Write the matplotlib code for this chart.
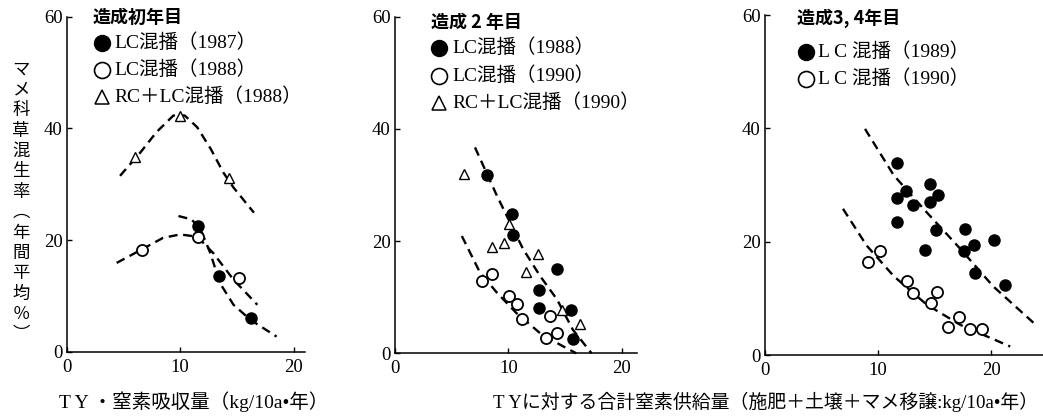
import matplotlib
matplotlib.use("Agg")
import matplotlib.pyplot as plt
from matplotlib.lines import Line2D

# ---- data -------------------------------------------------------------
# Panel 1: 造成初年目 (x = TY nitrogen uptake)
p1_lc87_x = [11.6, 13.4, 16.2]
p1_lc87_y = [22.5, 13.5, 6.0]
p1_lc88_x = [6.6, 11.6, 15.2]
p1_lc88_y = [18.3, 20.6, 13.2]
p1_rc88_x = [6.0, 10.0, 14.3]
p1_rc88_y = [34.8, 42.2, 31.2]
p1_curve_rc_x = [4.7, 6.5, 7.9, 9.4, 10.4, 11.5, 12.7, 13.8, 14.7, 16.5]
p1_curve_rc_y = [31.5, 35.7, 39.3, 42.3, 42.3, 40.2, 36.3, 32.1, 29.4, 24.9]
p1_curve_87_x = [9.85, 11.0, 11.8, 12.65, 13.5, 14.7, 16.2, 18.5]
p1_curve_87_y = [24.3, 23.7, 21.9, 17.7, 12.3, 8.4, 5.7, 2.7]
p1_curve_88_x = [4.4, 6.6, 8.5, 10.0, 11.5, 12.9, 14.7, 16.8]
p1_curve_88_y = [15.9, 18.3, 20.4, 21.0, 20.6, 17.7, 12.9, 8.4]

# Panel 2: 造成2年目 (x = total N supply)
p2_lc88_x = [8.1, 10.3, 10.4, 14.3, 12.7, 12.7, 15.5, 15.7]
p2_lc88_y = [31.7, 24.8, 21.0, 15.1, 11.2, 8.1, 7.7, 2.6]
p2_lc90_x = [7.7, 8.6, 10.1, 10.8, 11.2, 13.7, 13.3, 14.3]
p2_lc90_y = [12.9, 14.2, 10.3, 8.7, 6.2, 6.7, 2.8, 3.6]
p2_rc90_x = [6.1, 10.1, 8.6, 9.6, 12.6, 11.6, 14.7, 16.3]
p2_rc90_y = [32.0, 23.0, 18.9, 19.6, 17.7, 14.5, 7.7, 5.3]
p2_curve_hi_x = [7.06, 8.97, 11.3, 12.8, 14.3, 15.7, 17.35]
p2_curve_hi_y = [36.7, 28.2, 18.6, 13.8, 9.6, 4.2, 0.0]
p2_curve_lo_x = [5.9, 7.5, 9.0, 10.7, 12.8, 14.6, 16.0]
p2_curve_lo_y = [20.9, 14.4, 10.8, 7.2, 3.6, 1.5, 0.0]

# Panel 3: 造成3,4年目
p3_lc89_x = [11.65, 11.7, 12.5, 13.1, 14.6, 14.6, 15.3, 11.7, 15.1, 14.2,
             17.7, 17.6, 18.5, 18.6, 20.3, 21.2]
p3_lc89_y = [33.9, 27.7, 28.9, 26.5, 30.2, 27.0, 28.3, 23.5, 22.1, 18.5,
             22.2, 18.4, 19.4, 14.4, 20.3, 12.3]
p3_lc90_x = [9.1, 10.2, 12.6, 13.1, 15.2, 14.7, 16.2, 17.2, 18.1, 19.2]
p3_lc90_y = [16.4, 18.4, 13.0, 11.0, 11.1, 9.2, 5.0, 6.7, 4.6, 4.6]
p3_curve_hi_x = [8.85, 11.4, 14.3, 17.3, 20.2, 23.75]
p3_curve_hi_y = [39.9, 31.7, 25.2, 18.7, 12.1, 5.7]
p3_curve_lo_x = [6.9, 9.0, 11.4, 14.3, 17.3, 21.7]
p3_curve_lo_y = [25.8, 19.3, 13.9, 8.9, 5.3, 1.5]

# Text
panel_titles = ["造成初年目", "造成 2 年目", "造成3, 4年目"]
p1_labels = ["LC混播（1987）", "LC混播（1988）", "RC＋LC混播（1988）"]
p2_labels = ["LC混播（1988）", "LC混播（1990）", "RC＋LC混播（1990）"]
p3_labels = ["L C 混播（1989）", "L C 混播（1990）"]
y_label = "マメ科草混生率︵年間平均％︶"
x_label_1 = "T Y ・窒素吸収量（kg/10a•年）"
x_label_2 = "T Yに対する合計窒素供給量（施肥＋土壌＋マメ移譲:kg/10a•年）"
x_ticks = [0, 10, 20]
y_ticks = [0, 20, 40, 60]

# ---- figure -----------------------------------------------------------
W, H = 1043, 418
fig = plt.figure(figsize=(W / 100, H / 100), dpi=100)
MIXED = ["Liberation Serif", "Noto Sans CJK JP"]
CJK = ["Noto Sans CJK JP"]


def px_axes(left, bottom, right, top):
    return fig.add_axes([left / W, 1 - bottom / H, (right - left) / W,
                         (bottom - top) / H])


def ftext(x, y, s, **kw):
    return fig.text(x / W, 1 - y / H, s, **kw)


filled = dict(marker="o", ms=8.0, mfc="black", mec="black", ls="none",
              clip_on=False, zorder=3)
hollow = dict(marker="o", ms=8.0, mfc="white", mec="black", mew=1.3,
              ls="none", clip_on=False, zorder=3)
tri = dict(marker="^", ms=7.0, mfc="white", mec="black", mew=1.0,
           ls="none", clip_on=False, zorder=3)
dash = dict(color="black", lw=1.7, ls=(0, (3.8, 2.4)), clip_on=False,
            zorder=2)

axes_px = [(66.7, 351.7, 305, 16.7, 21.0),
           (395, 353.3, 637, 16.7, 21.36),
           (765, 355, 1043, 15, 24.6)]
axes = []
for (l, b, r, t, xmax) in axes_px:
    ax = px_axes(l, b, r, t)
    ax.set_xlim(0, xmax)
    ax.set_ylim(0, 60)
    for s in ("top", "right"):
        ax.spines[s].set_visible(False)
    for s in ("left", "bottom"):
        ax.spines[s].set_linewidth(1.1)
    ax.set_xticks(x_ticks)
    ax.set_yticks(y_ticks)
    ax.tick_params(direction="in", length=3.5, width=1.0, labelsize=13.5)
    ax.tick_params(axis="x", pad=5)
    ax.tick_params(axis="y", pad=3)
    for lab in ax.get_xticklabels() + ax.get_yticklabels():
        lab.set_family("Liberation Serif")
    ax.patch.set_alpha(0)
    axes.append(ax)

ax1, ax2, ax3 = axes

ax1.plot(p1_curve_rc_x, p1_curve_rc_y, **dash)
ax1.plot(p1_curve_87_x, p1_curve_87_y, **dash)
ax1.plot(p1_curve_88_x, p1_curve_88_y, **dash)
ax1.plot(p1_rc88_x, p1_rc88_y, **tri)
ax1.plot(p1_lc88_x, p1_lc88_y, **hollow)
ax1.plot(p1_lc87_x, p1_lc87_y, **filled)

ax2.plot(p2_curve_hi_x, p2_curve_hi_y, **dash)
ax2.plot(p2_curve_lo_x, p2_curve_lo_y, **dash)
ax2.plot(p2_rc90_x, p2_rc90_y, **tri)
ax2.plot(p2_lc90_x, p2_lc90_y, **hollow)
ax2.plot(p2_lc88_x, p2_lc88_y, **filled)

ax3.plot(p3_curve_hi_x, p3_curve_hi_y, **dash)
ax3.plot(p3_curve_lo_x, p3_curve_lo_y, **dash)
ax3.plot(p3_lc90_x, p3_lc90_y, **hollow)
ax3.plot(p3_lc89_x, p3_lc89_y, **filled)

# ---- in-panel keys ----------------------------------------------------
key_styles = {
    "filled": dict(marker="o", ms=11.5, mfc="black", mec="black"),
    "hollow": dict(marker="o", ms=11.5, mfc="white", mec="black", mew=1.2),
    "tri": dict(marker="^", ms=10.5, mfc="white", mec="black", mew=1.1),
}
keys = [
    (93, 17, 102, 114, [43, 70, 97], p1_labels, ["filled", "hollow", "tri"]),
    (431, 22, 439, 452, [48, 76, 103], p2_labels, ["filled", "hollow", "tri"]),
    (797, 18, 806, 818, [52, 79], p3_labels, ["filled", "hollow"]),
]
for i, (tx, ty, sx, lx, rows, labels, kinds) in enumerate(keys):
    ftext(tx, ty, panel_titles[i], family=CJK, fontweight="bold",
          fontsize=13, ha="left", va="center")
    for yy, lab, kind in zip(rows, labels, kinds):
        fig.add_artist(Line2D([sx / W], [1 - yy / H], ls="none",
                              transform=fig.transFigure,
                              **key_styles[kind]))
        ftext(lx, yy, lab, family=MIXED, fontsize=14, ha="left",
              va="center")

# ---- axis titles ------------------------------------------------------
ftext(21, 202, "\n".join(y_label), family=CJK, fontsize=12.5, ha="center",
      va="center", linespacing=1.17)
ftext(194, 402, x_label_1, family=MIXED, fontsize=14, ha="center",
      va="center")
ftext(1038, 402, x_label_2, family=MIXED, fontsize=13.6, ha="right",
      va="center")

fig.savefig("out.png", dpi=100, facecolor="white")
